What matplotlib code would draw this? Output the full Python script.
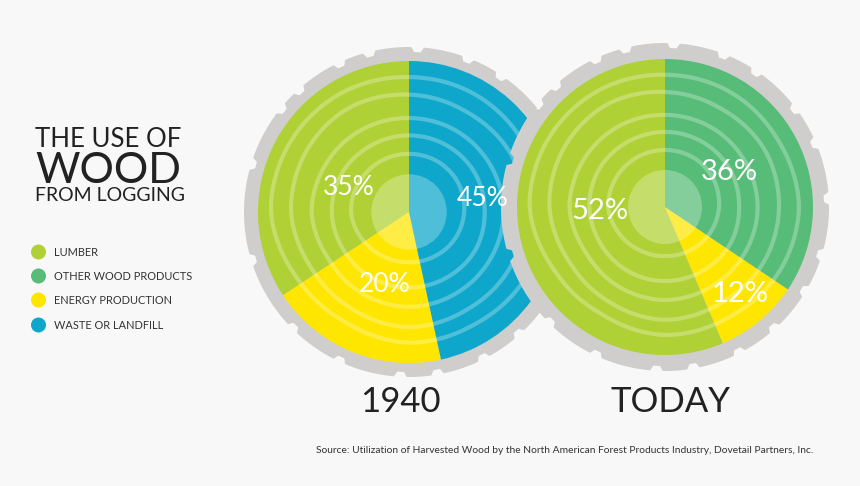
# -*- coding: utf-8 -*-
# The use of wood from logging: two log-shaped pies, drawn in pixel coordinates

import numpy as np
import matplotlib
matplotlib.use("Agg")
import matplotlib.pyplot as plt

plt.rcParams["font.family"] = ["Lato", "DejaVu Sans"]

WIDTH, HEIGHT = 860, 486
BG = "#F8F8F8"
GEAR = "#CFCECD"
INK = "#222222"

LUMBER = "#AFD135"
OTHER = "#57BC78"
ENERGY = "#FFE600"
WASTE = "#0EA7CB"

legend_names = ["LUMBER", "OTHER WOOD PRODUCTS", "ENERGY PRODUCTION", "WASTE OR LANDFILL"]
legend_colors = [LUMBER, OTHER, ENERGY, WASTE]

# wedge shares as they are drawn in the picture, counter-clockwise from the top
shares_1940 = [34.3, 19.1, 46.6]
colors_1940 = [LUMBER, ENERGY, WASTE]
labels_1940 = ["35%", "20%", "45%"]

shares_today = [56.4, 9.2, 34.4]
colors_today = [LUMBER, ENERGY, OTHER]
labels_today = ["52%", "12%", "36%"]

# gaps between the teeth of the log, degrees clockwise from the top
notch_angles = [3, 21, 34, 53, 67, 87, 107, 121, 138, 153, 170, 183, 205, 225,
                253, 287, 309, 318, 335, 346]

# tree rings: radius at the top as share of log radius, and the wobble per 30 degrees
ring_radii = [0.893, 0.777, 0.622, 0.507, 0.385]
ring_wobble = [
    [0, 0, -1, 2, -1, -5, -4, -8, -5, 3.5, 3, 2],
    [0, -2, 0, -1, -2, -4, -2, -5, -5, 0.7, 2, 3],
    [0, 0, 0, 0.6, 0, 0, 1, 0, -1, 3.7, 2, 1],
    [0, 0, 0, -1, 0, -1, -1, -1, -1, 0.7, 1, 0],
    [0, 0, -1, -3, -5, -7, -8, -7, -4, 0, 0, 0],
]


def gear_outline(cx, cy, r_outer, depth):
    # circle with shallow sloped notches cut into it
    t = np.arange(0, 360, 0.25)
    r = np.full(t.shape, float(r_outer))
    for a in notch_angles:
        r -= depth * np.clip(2.2 - np.abs(t - a), 0, 1)
    return cx + r * np.sin(np.radians(t)), cy + r * np.cos(np.radians(t))


def draw_rings(ax, cx, cy, radius):
    t = np.arange(0, 360, 1.0)
    anchors = np.arange(0, 390, 30)
    kernel = np.ones(13) / 13
    for share, wobble in zip(ring_radii, ring_wobble):
        w = np.interp(t, anchors, wobble + wobble[:1])
        w = np.convolve(np.r_[w[-6:], w, w[:6]], kernel, mode="valid")
        r = share * radius + w
        ax.fill(cx + r * np.sin(np.radians(t)), cy + r * np.cos(np.radians(t)),
                facecolor="none", edgecolor=(1, 1, 1, 0.27), linewidth=3.0, zorder=3)


def draw_log(ax, cx, cy, radius, shares, colors, r_outer, depth):
    # cy is measured from the bottom of the figure
    xs, ys = gear_outline(cx, cy, r_outer, depth)
    ax.fill(xs, ys, color=GEAR, linewidth=0, zorder=3)
    ax.pie(shares, colors=colors, center=(cx, cy), radius=radius, startangle=90,
           counterclock=True, frame=True, wedgeprops={"linewidth": 0, "zorder": 3})
    draw_rings(ax, cx, cy, radius)
    heart = plt.Circle((cx, cy), 0.25 * radius, color="white", alpha=0.27, linewidth=0, zorder=3)
    ax.add_patch(heart)


def main():
    fig = plt.figure(figsize=(WIDTH / 100, HEIGHT / 100), dpi=100, facecolor=BG)
    ax = fig.add_axes([0, 0, 1, 1])

    draw_log(ax, 409, HEIGHT - 212, 151, shares_1940, colors_1940, 165, 5)
    draw_log(ax, 665, HEIGHT - 207, 148, shares_today, colors_today, 164, 5)

    ax.set_xlim(0, WIDTH)
    ax.set_ylim(0, HEIGHT)
    ax.set_aspect("equal")
    ax.axis("off")

    def put(x, y, text, **kw):
        # y is the baseline, counted from the top like in the picture
        ax.text(x, HEIGHT - y, text, va="baseline", zorder=5, **kw)

    # percents inside the logs
    for (x, y), label in zip([(349, 195), (385, 292), (483, 206)], labels_1940):
        put(x, y, label, color="white", fontsize=19, ha="center")
    for (x, y), label in zip([(600, 219), (740, 302), (729, 180)], labels_today):
        put(x, y, label, color="white", fontsize=21, ha="center")

    put(400, 412, "1940", color=INK, fontsize=25, ha="center")
    put(670, 412, "TODAY", color=INK, fontsize=25, ha="center")

    # title block
    put(35, 147, "THE USE OF", color=INK, fontsize=18.5, ha="left")
    put(35, 183, "WOOD", color=INK, fontsize=31, ha="left")
    put(35, 201, "FROM LOGGING", color=INK, fontsize=14, ha="left")

    # legend
    for y, name, color in zip([252, 276, 300, 325], legend_names, legend_colors):
        ax.add_patch(plt.Circle((38.5, HEIGHT - y), 7.5, color=color, linewidth=0, zorder=5))
        put(54, y + 4, name, color="#333333", fontsize=7.9, ha="left")

    put(813, 453, "Source: Utilization of Harvested Wood by the North American Forest "
        "Products Industry, Dovetail Partners, Inc.", color="#333333", fontsize=7.38, ha="right")

    fig.savefig("out.png", dpi=100, facecolor=BG)
    plt.close(fig)


if __name__ == "__main__":
    main()
